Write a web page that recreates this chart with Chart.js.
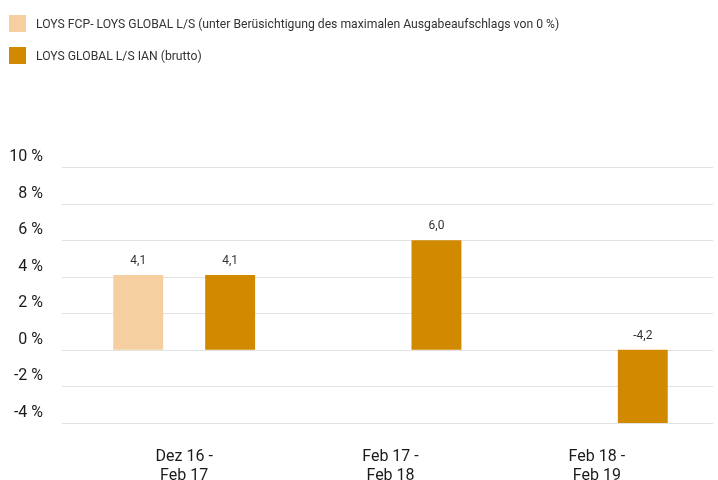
<!DOCTYPE html>
<html>
<head>
<meta charset="utf-8">
<script src="https://cdn.jsdelivr.net/npm/chart.js@4.4.1/dist/chart.umd.min.js"></script>
<style>
    html, body { margin: 0; padding: 0; background: #fff; }
    #wrap { position: relative; width: 718px; height: 480px; }
    #legend { position: absolute; left: 9px; top: 15px; font-family: Roboto, sans-serif; font-size: 12.2px; color: #333; }
    .item { display: flex; align-items: center; height: 17px; margin-bottom: 15px; }
    .box { width: 17px; height: 17px; margin-right: 10px; }
</style>
</head>
<body>
<div id="wrap">
    <canvas id="chart" width="718" height="480"></canvas>
    <div id="legend"></div>
</div>
<script>
// Periods (x axis)
const periods = [['Dez 16 -', 'Feb 17'], ['Feb 17 -', 'Feb 18'], ['Feb 18 -', 'Feb 19']];

// Series
const fcpLabel = 'LOYS FCP- LOYS GLOBAL L/S (unter Berüsichtigung des maximalen Ausgabeaufschlags von 0 %)';
const fcpValues = [4.1, null, null];
const ianLabel = 'LOYS GLOBAL L/S IAN (brutto)';
const ianValues = [4.1, 6.0, -4.2];

// Y axis
const yMin = -4;
const yMax = 10;
const yStep = 2;

const lightColor = '#F5CF9F';
const darkColor = '#D18A00';

// gridlines run wider than the plot area, so draw them by hand
const gridPlugin = {
    id: 'wideGrid',
    beforeDatasetsDraw(chart) {
        const ctx = chart.ctx;
        const y = chart.scales.y;
        ctx.save();
        ctx.strokeStyle = '#e2e2e2';
        ctx.lineWidth = 1;
        y.ticks.forEach(t => {
            const py = Math.round(y.getPixelForValue(t.value)) + 0.5;
            ctx.beginPath();
            ctx.moveTo(62, py);
            ctx.lineTo(713, py);
            ctx.stroke();
        });
        ctx.restore();
    }
};

// value labels above each bar
const valuePlugin = {
    id: 'values',
    afterDatasetsDraw(chart) {
        const ctx = chart.ctx;
        ctx.save();
        ctx.font = '12px Roboto, sans-serif';
        ctx.fillStyle = '#333';
        ctx.textAlign = 'center';
        ctx.textBaseline = 'bottom';
        chart.data.datasets.forEach((ds, i) => {
            chart.getDatasetMeta(i).data.forEach((bar, j) => {
                const v = ds.data[j];
                if (v === null || v === undefined) return;
                const top = Math.min(bar.y, bar.base);
                ctx.fillText(v.toFixed(1).replace('.', ','), bar.x, top - 8);
            });
        });
        ctx.restore();
    }
};

const chart = new Chart(document.getElementById('chart'), {
    type: 'bar',
    data: {
        labels: periods,
        datasets: [{
            label: fcpLabel,
            data: fcpValues,
            backgroundColor: lightColor,
            barPercentage: 0.543,
            categoryPercentage: 0.891
        }, {
            label: ianLabel,
            data: ianValues,
            backgroundColor: darkColor,
            barPercentage: 0.543,
            categoryPercentage: 0.891
        }]
    },
    options: {
        responsive: false,
        animation: false,
        layout: {
            padding: { top: 167, right: 18, left: 0, bottom: 0 }
        },
        plugins: {
            legend: { display: false },
            tooltip: { enabled: false }
        },
        scales: {
            x: {
                afterFit(scale) { scale.height = 57; },
                grid: { display: false },
                border: { display: false },
                ticks: {
                    color: '#1a1a1a',
                    font: { family: 'Roboto, sans-serif', size: 16 },
                    padding: 16,
                    maxRotation: 0
                }
            },
            y: {
                min: yMin,
                max: yMax,
                afterFit(scale) { scale.width = 81; },
                grid: { display: false },
                border: { display: false },
                ticks: {
                    stepSize: yStep,
                    color: '#1a1a1a',
                    padding: 30,
                    labelOffset: -10,
                    font: { family: 'Roboto, sans-serif', size: 16 },
                    callback: v => v + ' %'
                }
            }
        }
    },
    plugins: [gridPlugin, valuePlugin]
});

// simple html legend from the datasets
const legend = document.getElementById('legend');
chart.data.datasets.forEach(ds => {
    const item = document.createElement('div');
    item.className = 'item';
    item.innerHTML = '<span class="box" style="background:' + ds.backgroundColor + '"></span><span>' + ds.label + '</span>';
    legend.appendChild(item);
});
</script>
</body>
</html>
